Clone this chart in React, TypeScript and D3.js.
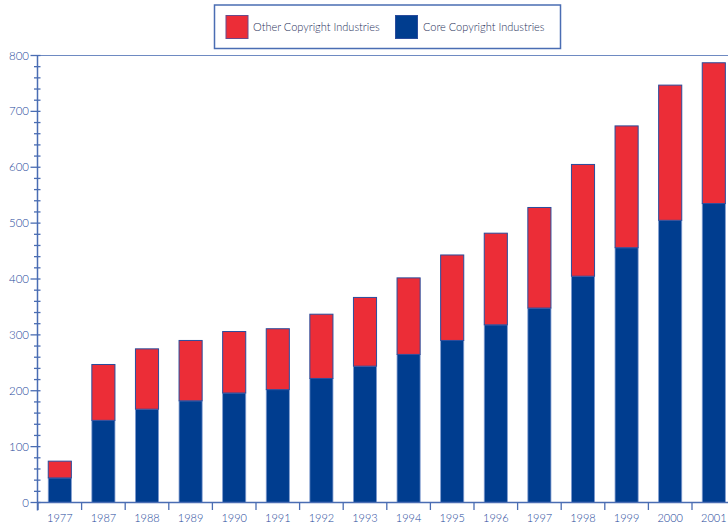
import React from "react";
import * as d3 from "d3";

const years = ["1977","1987","1988","1989","1990","1991","1992","1993","1994","1995","1996","1997","1998","1999","2000","2001"];
const coreValues = [44,147,167,182,196,202,222,244,265,290,318,348,405,456,505,535];
const totalValues = [74,247,275,290,306,311,337,367,402,443,482,528,605,674,747,787];
const yTicks = [0,100,200,300,400,500,600,700,800];
const legendLabels = ["Other Copyright Industries", "Core Copyright Industries"];

const W = 728, H = 526;
const RED = "#ec2d37";
const BLUE = "#003d8f";
const AXIS = "#4a6db3";
const TEXT = "#24479a";
const FONT = "Lato, 'Open Sans', sans-serif";

export default function App() {
  const x = d3.scaleBand<string>().domain(years).range([38, 38 + 16 * 43.6]).paddingInner(0.47).paddingOuter(0.235);
  const y = d3.scaleLinear().domain([0, 800]).range([502.5, 55.5]);
  const step = x.step();
  const minor = d3.range(0, 801, 20).filter(v => v % 100 !== 0);
  const boundaries = years.map(yr => (x(yr) as number) - step * 0.47 / 2);
  const axisX = 37.5;

  return (
    <svg width={W} height={H} style={{ position: "absolute", left: 0, top: 0, background: "#fff" }} fontFamily={FONT} fontWeight={300}>
      <line x1={axisX} x2={W} y1={y(800)} y2={y(800)} stroke={AXIS} strokeOpacity={0.8} strokeWidth={1.2} />
      {years.map((yr, i) => {
        const bx = x(yr) as number;
        const bw = x.bandwidth();
        return (
          <g key={yr}>
            <rect x={bx} y={y(coreValues[i])} width={bw} height={y(0) - y(coreValues[i])} fill={BLUE} stroke="#7f9bd0" strokeWidth={0.8} />
            <rect x={bx} y={y(totalValues[i])} width={bw} height={y(coreValues[i]) - y(totalValues[i])} fill={RED} stroke="#2a4c9c" strokeWidth={1} />
          </g>
        );
      })}
      <line x1={axisX} x2={axisX} y1={y(800)} y2={y(0) + 8} stroke={AXIS} strokeWidth={1.5} />
      {minor.map(v => (
        <line key={"m" + v} x1={34} x2={40.5} y1={y(v)} y2={y(v)} stroke={AXIS} strokeWidth={1.3} />
      ))}
      {yTicks.map(v => (
        <g key={"t" + v}>
          <line x1={30.5} x2={40.5} y1={y(v)} y2={y(v)} stroke={AXIS} strokeWidth={1.3} />
          <text x={29} y={y(v)} dy="0.35em" textAnchor="end" fontSize={11.5} fill={TEXT}>{v}</text>
        </g>
      ))}
      <line x1={axisX} x2={W} y1={y(0)} y2={y(0)} stroke={AXIS} strokeWidth={1.5} />
      {boundaries.map((bx, i) => (
        <line key={"b" + i} x1={bx} x2={bx} y1={y(0)} y2={y(0) + 7.5} stroke={AXIS} strokeWidth={1.3} />
      ))}
      {years.map(yr => (
        <text key={"l" + yr} x={(x(yr) as number) + x.bandwidth() / 2} y={522} textAnchor="middle" fontSize={11} fill={TEXT}>{yr}</text>
      ))}
      <rect x={214.5} y={5} width={346} height={43.5} fill="#fff" stroke={AXIS} strokeWidth={1.5} />
      <rect x={226} y={15.5} width={22} height={23} fill={RED} stroke="#6a4a8a" strokeWidth={1} />
      <text x={253} y={27} dy="0.35em" fontSize={11} fill="#27305a">{legendLabels[0]}</text>
      <rect x={395.5} y={15.5} width={22} height={23} fill={BLUE} stroke="#2a4c9c" strokeWidth={1} />
      <text x={423} y={27} dy="0.35em" fontSize={11} fill="#27305a">{legendLabels[1]}</text>
    </svg>
  );
}
